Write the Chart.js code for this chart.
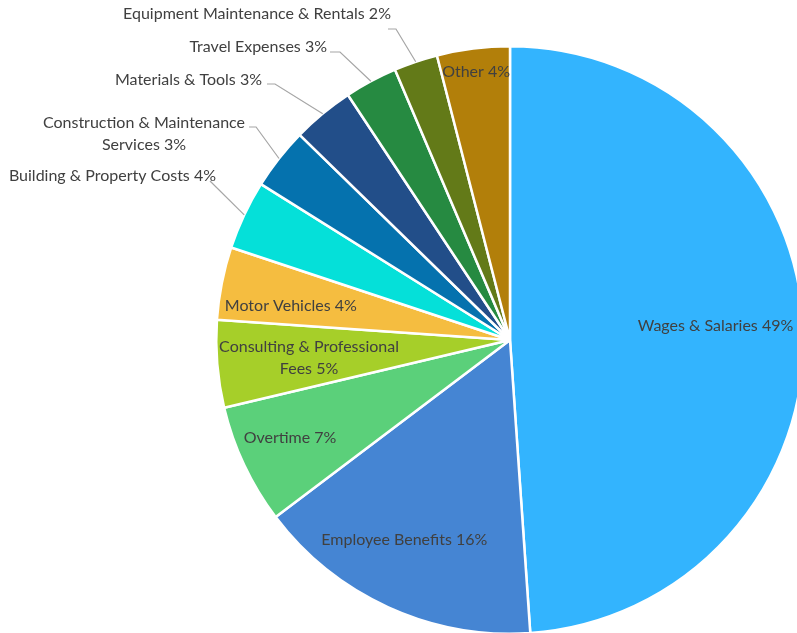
<!DOCTYPE html>
<html>
<head>
<meta charset="utf-8">
<script src="https://cdn.jsdelivr.net/npm/chart.js@4"></script>
<style>
  html, body { margin: 0; padding: 0; background: #fff; overflow: hidden; }
  #wrap { position: absolute; left: 0; top: 0; width: 1020px; height: 680px; }
</style>
</head>
<body>
<div id="wrap"><canvas id="pieChart" width="1020" height="680"></canvas></div>
<script>
// Categories and shares (percent), clockwise from 12 o'clock
const categories = [
    'Wages & Salaries', 'Employee Benefits', 'Overtime', 'Consulting & Professional Fees',
    'Motor Vehicles', 'Building & Property Costs', 'Construction & Maintenance Services',
    'Materials & Tools', 'Travel Expenses', 'Equipment Maintenance & Rentals', 'Other'
];
const shares = [48.9, 15.8, 6.6, 4.8, 4.0, 3.8, 3.4, 3.4, 2.9, 2.4, 4.0];

const sliceColors = [
    '#33b4fe', '#4585d3', '#5bd07a', '#a6cf29', '#f5bd40', '#05e0d9',
    '#0572ae', '#224e89', '#268a41', '#637a18', '#b27f0a'
];

// Where each label goes: inside the slice (f = fraction of radius) or outside with a leader line
const labelStyle = [
    { inside: true, f: 0.70, dy: -7, dx: 0 },
    { inside: true, f: 0.77, dy: -6, dx: -12 },
    { inside: true, f: 0.82, dy: -5, dx: -2 },
    { inside: true, f: 0.70, dy: 1, dx: 4, wrap: 200 },
    { inside: true, f: 0.75, dy: 8, dx: -3 },
    { x: 216, y: 176, align: 'right', lx: -6, ly: 5, hlen: 0 },
    { x: 144, y: 123, align: 'center', wrap: 215, lx: 4, ly: 4, hlen: 7 },
    { x: 262, y: 80, align: 'right', lx: 5, ly: 4, hlen: 8 },
    { x: 327, y: 47, align: 'right', lx: 3, ly: 5, hlen: 10 },
    { x: 257, y: 14, align: 'center', lx: -3, ly: 15, hlen: 8 },
    { inside: true, f: 0.92, dy: 0, dx: 0 }
];

const FONT = '16px Lato';
const TEXT_COLOR = '#404040';
const LINE_H = 22;

function wrapText(ctx, text, maxWidth) {
    if (!maxWidth) return [text];
    const words = text.split(' ');
    const lines = [];
    let cur = '';
    words.forEach(w => {
        const test = cur ? cur + ' ' + w : w;
        if (ctx.measureText(test).width > maxWidth && cur) {
            lines.push(cur);
            cur = w;
        } else {
            cur = test;
        }
    });
    if (cur) lines.push(cur);
    return lines;
}

// Draws the data labels and leader lines
const sliceLabels = {
    id: 'sliceLabels',
    afterDatasetsDraw(chart) {
        const ctx = chart.ctx;
        const arcs = chart.getDatasetMeta(0).data;
        const total = shares.reduce((a, b) => a + b, 0);
        ctx.save();
        ctx.font = FONT;
        ctx.fillStyle = TEXT_COLOR;
        ctx.textBaseline = 'middle';

        arcs.forEach((arc, i) => {
            const st = labelStyle[i];
            const pct = Math.round(shares[i] / total * 100);
            const text = categories[i] + ' ' + pct + '%';
            const lines = wrapText(ctx, text, st.wrap);
            const mid = (arc.startAngle + arc.endAngle) / 2;
            const r = arc.outerRadius;

            if (st.inside) {
                const cx = arc.x + Math.cos(mid) * r * st.f + (st.dx || 0);
                const cy = arc.y + Math.sin(mid) * r * st.f + (st.dy || 0);
                ctx.textAlign = 'center';
                const y0 = cy - (lines.length - 1) * LINE_H / 2;
                lines.forEach((ln, k) => ctx.fillText(ln, cx, y0 + k * LINE_H));
                return;
            }

            ctx.textAlign = st.align;
            lines.forEach((ln, k) => ctx.fillText(ln, st.x, st.y + k * LINE_H));

            // leader line: from right end of first line to the slice edge
            const w = ctx.measureText(lines[0]).width;
            const right = st.align === 'right' ? st.x : st.x + w / 2;
            const sx = right + st.lx;
            const sy = st.y + st.ly;
            const ex = arc.x + Math.cos(mid) * r;
            const ey = arc.y + Math.sin(mid) * r;
            ctx.beginPath();
            ctx.strokeStyle = '#a6a6a6';
            ctx.lineWidth = 1.2;
            ctx.moveTo(sx, sy);
            ctx.lineTo(sx + st.hlen, sy);
            ctx.lineTo(ex, ey);
            ctx.stroke();
        });
        ctx.restore();
    }
};

const chart = new Chart(document.getElementById('pieChart').getContext('2d'), {
    type: 'pie',
    data: {
        labels: categories,
        datasets: [{
            data: shares,
            backgroundColor: sliceColors,
            borderColor: '#ffffff',
            borderWidth: 2.5
        }]
    },
    options: {
        responsive: false,
        animation: false,
        layout: { padding: { top: 45, bottom: 45, left: 0, right: 0 } },
        plugins: {
            legend: { display: false },
            tooltip: { enabled: false }
        }
    },
    plugins: [sliceLabels]
});
</script>
</body>
</html>
